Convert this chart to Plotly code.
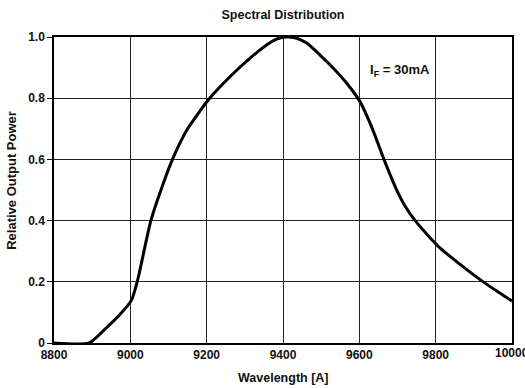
import plotly.graph_objects as go

wavelength = [8800, 8892, 8931, 8975, 9003, 9018, 9029, 9040, 9053, 9071, 9088, 9106,
              9123, 9148, 9204, 9261, 9313, 9357, 9383, 9405, 9436, 9462, 9497, 9532,
              9567, 9602, 9632, 9667, 9702, 9720, 9750, 9781, 9811, 9864, 9921, 9968, 10000]
power = [0.0, 0.0, 0.042, 0.096, 0.14, 0.2, 0.26, 0.325, 0.396, 0.467, 0.527, 0.587,
         0.635, 0.696, 0.794, 0.87, 0.93, 0.974, 0.993, 1.0, 0.996, 0.98, 0.941, 0.898,
         0.849, 0.788, 0.707, 0.592, 0.489, 0.447, 0.394, 0.35, 0.311, 0.257, 0.203, 0.163, 0.137]

x_ticks = [8800, 9000, 9200, 9400, 9600, 9800, 10000]
y_ticks = [0, 0.2, 0.4, 0.6, 0.8, 1.0]
y_tick_labels = ["0", "0.2", "0.4", "0.6", "0.8", "1.0"]

FONT = "Liberation Sans, Arial, Helvetica, sans-serif"
TXT = "#111"

fig = go.Figure()
fig.add_trace(go.Scatter(x=wavelength, y=power, mode="lines",
                         line=dict(color="black", width=3, shape="spline", smoothing=0.6),
                         hoverinfo="skip", showlegend=False))

fig.update_layout(
    width=525, height=388,
    margin=dict(l=54, r=13, t=37, b=45),
    paper_bgcolor="white", plot_bgcolor="white",
    font=dict(family=FONT, size=12, color=TXT),
    title=dict(text="<b>Spectral Distribution</b>", x=0.539, xanchor="center",
               y=0.962, yanchor="middle", font=dict(size=12.5, family=FONT, color=TXT)),
    xaxis=dict(range=[8800, 10000], tickvals=x_ticks[:-1],
               ticktext=["<b>%d</b>" % v for v in x_ticks[:-1]],
               showgrid=True, gridcolor="#222", gridwidth=1,
               showline=True, linecolor="black", linewidth=1.5, mirror=True,
               ticks="", zeroline=False,
               tickfont=dict(size=12, family=FONT, color=TXT)),
    yaxis=dict(range=[0, 1.0], tickvals=y_ticks,
               ticktext=["<b>%s</b>" % t for t in y_tick_labels],
               showgrid=True, gridcolor="#222", gridwidth=1,
               showline=True, linecolor="black", linewidth=1.5, mirror=True,
               ticks="outside", ticklen=5, tickcolor="black", zeroline=False,
               tickfont=dict(size=12, family=FONT, color=TXT)),
)

# last x tick label (clipped by the page edge, as in the reference)
fig.add_annotation(x=x_ticks[-1], y=0, xref="x", yref="paper", yshift=-10,
                   text="<b>%d</b>" % x_ticks[-1], showarrow=False,
                   xanchor="center", yanchor="middle",
                   font=dict(size=12, family=FONT, color=TXT))

# axis titles
fig.add_annotation(x=0.5, y=0, xref="paper", yref="paper", yshift=-35,
                   text="<b>Wavelength [A]</b>", showarrow=False,
                   xanchor="center", yanchor="middle",
                   font=dict(size=12.5, family=FONT, color=TXT))
fig.add_annotation(x=0, y=0.53, xref="paper", yref="paper", xshift=-42,
                   text="<b>Relative Output Power</b>", showarrow=False, textangle=-90,
                   xanchor="center", yanchor="middle",
                   font=dict(size=13, family=FONT, color=TXT))

fig.add_annotation(x=9706, y=0.89, xref="x", yref="y",
                   text="<b>I<sub>F</sub> = 30mA</b>", showarrow=False,
                   font=dict(size=13, family=FONT, color=TXT))

fig.write_html("out.html")
